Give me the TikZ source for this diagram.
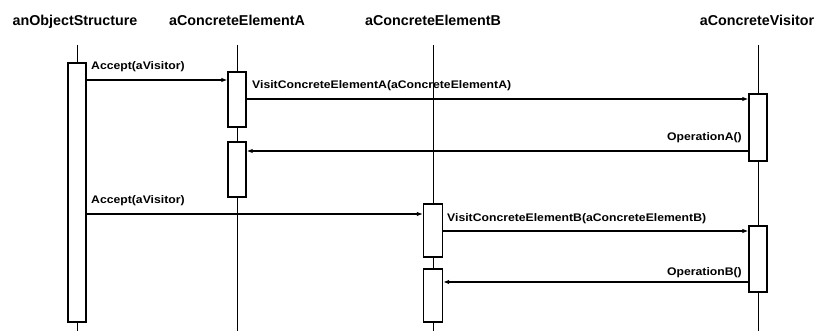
\documentclass[tikz,border=0pt]{standalone}
\usepackage{fontspec}
\setmainfont{Liberation Sans}
\newfontfamily\hdrfont{Liberation Sans Bold}
\newfontfamily\lblfont[FakeStretch=1.11]{Liberation Sans Bold}
\usetikzlibrary{arrows.meta}
\begin{document}
\begin{tikzpicture}[x=1pt,y=-1pt,
  lifeline/.style={line width=1pt},
  actbox/.style={draw, fill=white, line width=1.3pt, inner sep=0pt, minimum width=18pt},
  msg/.style={line width=1.3pt, -{Latex[length=6pt,width=4.5pt]}},
  hdr/.style={font=\hdrfont\fontsize{14.3}{17}\selectfont, anchor=base, inner sep=0pt},
  lbl/.style={font=\lblfont\fontsize{11}{13}\selectfont, inner sep=0pt}]
\useasboundingbox (0,0) rectangle (814,331);
% headers
\node[hdr] (hobj) at (75,26) {anObjectStructure};
\node[hdr] (hA) at (237,26) {aConcreteElementA};
\node[hdr] (hB) at (433,26) {aConcreteElementB};
\node[hdr] (hV) at (757,26) {aConcreteVisitor};
% lifelines
\coordinate (objtop) at (77,45); \coordinate (objbot) at (77,331);
\coordinate (Atop) at (237,45); \coordinate (Abot) at (237,331);
\coordinate (Btop) at (433,45); \coordinate (Bbot) at (433,331);
\coordinate (Vtop) at (758,45); \coordinate (Vbot) at (758,331);
\draw[lifeline] (objtop) -- (objbot);
\draw[lifeline] (Atop) -- (Abot);
\draw[lifeline] (Btop) -- (Bbot);
\draw[lifeline] (Vtop) -- (Vbot);
% message rows
\coordinate (m1) at (0,80);
\coordinate (m2) at (0,99);
\coordinate (m3) at (0,151);
\coordinate (m4) at (0,214);
\coordinate (m5) at (0,231);
\coordinate (m6) at (0,282);
% activation boxes
\node[actbox, minimum height=259pt] (obj) at (77,192.5) {};
\node[actbox, minimum height=55pt] (a1) at (237,99.5) {};
\node[actbox, minimum height=55pt] (a2) at (237,169.5) {};
\node[actbox, minimum width=19pt, minimum height=53pt] (b1) at (433,230.5) {};
\node[actbox, minimum width=19pt, minimum height=53pt] (b2) at (433,295.5) {};
\node[actbox, minimum height=67pt] (v1) at (758,127.5) {};
\node[actbox, minimum height=66pt] (v2) at (758,259) {};
% messages
\draw[msg] (obj.east |- m1) -- (a1.west |- m1);
\draw[msg] (a1.east |- m2) -- (v1.west |- m2);
\draw[msg] (v1.west |- m3) -- (a2.east |- m3);
\draw[msg] (obj.east |- m4) -- (b1.west |- m4);
\draw[msg] (b1.east |- m5) -- (v2.west |- m5);
\draw[msg] (v2.west |- m6) -- (b2.east |- m6);
% labels
\node[lbl, anchor=base west] (l1) at (91,70) {Accept(aVisitor)};
\node[lbl, anchor=base west] (l2) at (252,89) {VisitConcreteElementA(aConcreteElementA)};
\node[lbl, anchor=base east] (l3) at (742,141) {OperationA()};
\node[lbl, anchor=base west] (l4) at (91,204) {Accept(aVisitor)};
\node[lbl, anchor=base west] (l5) at (447,222) {VisitConcreteElementB(aConcreteElementB)};
\node[lbl, anchor=base east] (l6) at (742,275) {OperationB()};
\end{tikzpicture}
\end{document}
